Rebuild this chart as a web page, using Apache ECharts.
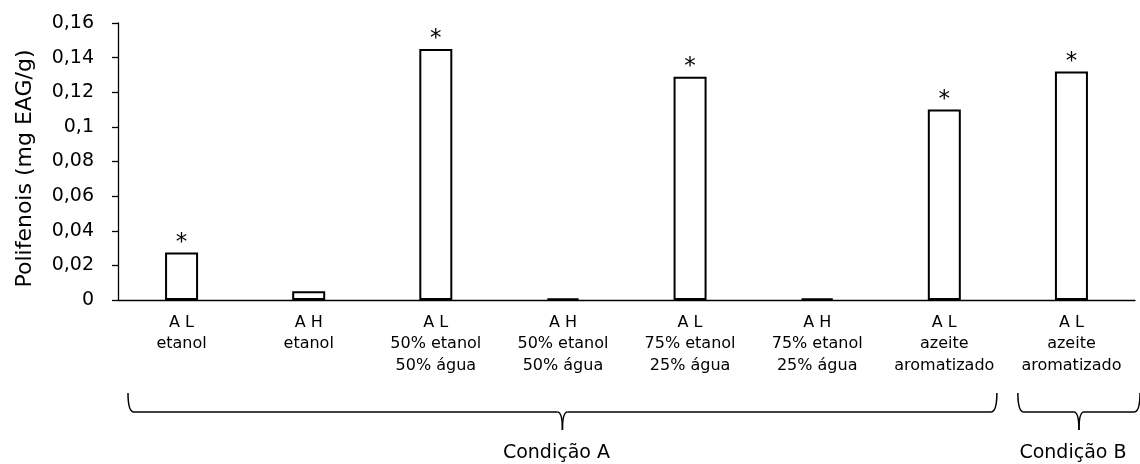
<!DOCTYPE html>
<html>
<head>
<meta charset="utf-8">
<script src="https://cdn.jsdelivr.net/npm/echarts@6/dist/echarts.min.js"></script>
<style>
html,body{margin:0;padding:0;background:#fff;}
#chart{width:1140px;height:464px;}
</style>
</head>
<body>
<div id="chart"></div>
<script>
// ---- data ----
var categories = [
  'A L\netanol',
  'A H\netanol',
  'A L\n50% etanol\n50% água',
  'A H\n50% etanol\n50% água',
  'A L\n75% etanol\n25% água',
  'A H\n75% etanol\n25% água',
  'A L\nazeite\naromatizado',
  'A L\nazeite\naromatizado'
];
var values = [0.0275, 0.005, 0.145, 0.001, 0.129, 0.001, 0.110, 0.132];
var marks = ['*', '', '*', '', '*', '', '*', '*'];
var yTickLabels = ['0', '0,02', '0,04', '0,06', '0,08', '0,1', '0,12', '0,14', '0,16'];
var yTitle = 'Polifenois (mg EAG/g)';
var groupLabels = ['Condição A', 'Condição B'];
var groupFrom = [0, 7];
var groupTo = [6, 7];

var chart = echarts.init(document.getElementById('chart'), null, {renderer: 'canvas'});
var FONT = 'DejaVu Sans';

var option = {
  animation: false,
  backgroundColor: '#ffffff',
  grid: {left: 118, right: 5, top: 23, bottom: 164, containLabel: false},
  xAxis: {
    type: 'category',
    data: categories,
    axisLine: {show: true, lineStyle: {color: '#000', width: 1.3}},
    axisTick: {show: false},
    axisLabel: {
      interval: 0,
      margin: 12,
      color: '#000',
      fontFamily: FONT,
      fontSize: 16,
      lineHeight: 21.5
    }
  },
  yAxis: {
    type: 'value',
    min: 0,
    max: 0.16,
    interval: 0.02,
    splitLine: {show: false},
    axisLine: {show: true, lineStyle: {color: '#000', width: 1.3}},
    axisTick: {show: true, inside: false, length: 6, lineStyle: {color: '#000', width: 1.3}},
    axisLabel: {
      margin: 24,
      color: '#000',
      fontFamily: FONT,
      fontSize: 19,
      formatter: function (v) {
        return yTickLabels[Math.round(v / 0.02)];
      }
    },
    name: yTitle,
    nameLocation: 'middle',
    nameGap: 82,
    nameTextStyle: {
      color: '#000',
      fontFamily: FONT,
      fontSize: 22,
      padding: [0, 14, 0, 0]
    }
  },
  series: [{
    type: 'bar',
    barWidth: 33,
    data: values.map(function (v, i) {
      return {value: v, label: {show: marks[i] !== '', formatter: marks[i]}};
    }),
    itemStyle: {color: '#ffffff', borderColor: '#000', borderWidth: 2},
    label: {
      position: 'top',
      distance: -2,
      color: '#000',
      fontFamily: FONT,
      fontSize: 23
    }
  }]
};
chart.setOption(option);

// ---- group braces computed from the axis scale ----
function bandEdges(i) {
  var c = chart.convertToPixel({xAxisIndex: 0}, i);
  var c2 = chart.convertToPixel({xAxisIndex: 0}, i === 0 ? 1 : i - 1);
  var bw = Math.abs(c - c2);
  return [c - bw / 2, c + bw / 2];
}
var yBase = chart.convertToPixel({yAxisIndex: 0}, 0);
var yTop = yBase + 93, yMid = yBase + 112, yTip = yBase + 130, yText = yBase + 153;
var lineStyle = {fill: null, stroke: '#000', lineWidth: 1.5};
var graphics = [];
function curve(x1, y1, cx, cy, x2, y2) {
  graphics.push({
    type: 'bezierCurve',
    shape: {x1: x1, y1: y1, x2: x2, y2: y2, cpx1: cx, cpy1: cy},
    style: lineStyle
  });
}
function seg(x1, y1, x2, y2) {
  graphics.push({
    type: 'line',
    shape: {x1: x1, y1: y1, x2: x2, y2: y2},
    style: lineStyle
  });
}
for (var g = 0; g < groupLabels.length; g++) {
  var l = bandEdges(groupFrom[g])[0] + 10;
  var r = bandEdges(groupTo[g])[1] + (g === groupLabels.length - 1 ? 5 : -11);
  var t = (l + r) / 2;
  curve(l, yTop, l, yMid, l + 6, yMid);
  seg(l + 6, yMid, t - 5, yMid);
  curve(t - 5, yMid, t, yMid, t, yTip);
  curve(t, yTip, t, yMid, t + 5, yMid);
  seg(t + 5, yMid, r - 6, yMid);
  curve(r - 6, yMid, r, yMid, r, yTop);
  graphics.push({
    type: 'text',
    x: t - 6,
    y: yText,
    style: {
      text: groupLabels[g],
      fill: '#000',
      font: '19px "' + FONT + '"',
      textAlign: 'center',
      textVerticalAlign: 'middle'
    }
  });
}
chart.setOption({graphic: graphics});
</script>
</body>
</html>
